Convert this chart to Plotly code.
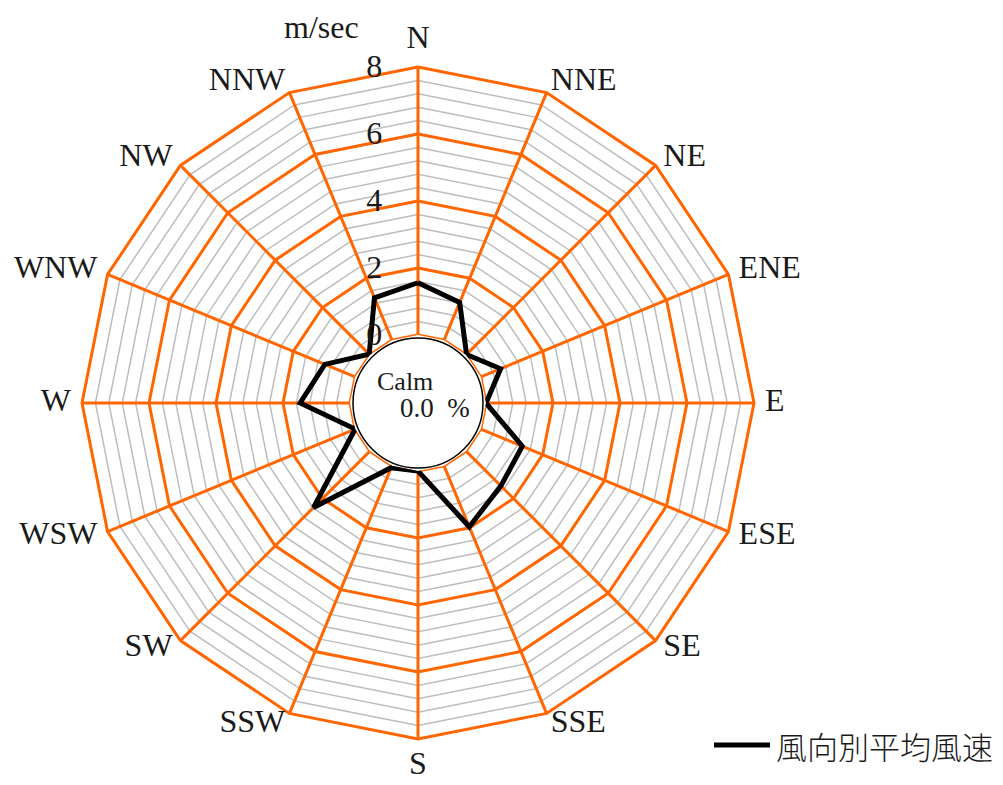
import numpy as np
import plotly.graph_objects as go

directions = ["N", "NNE", "NE", "ENE", "E", "ESE", "SE", "SSE",
              "S", "SSW", "SW", "WSW", "W", "WNW", "NW", "NNW"]
wind_speed = [1.56, 1.22, 0.02, 0.64, 0.0, 1.34, 1.47, 1.97,
              0.0, 0.06, 2.38, 0.0, 1.49, 0.98, 0.03, 1.37]
radial_ticks = [0, 2, 4, 6, 8]
minor_step = 0.4
r_max = 8
calm_pct = "0.0"
legend_name = "風向別平均風速"
unit_label = "m/sec"

W, H = 1003, 785
OFF = 8  # page body margin
def px(x):
    return (x - OFF) / W
def py(y):
    return (H - (y - OFF)) / H

cx, cy = 418, 403
r0_px, unit_px = 68, 33.5          # pixel radius of value 0, pixels per m/s
label_r = r_max + 11 / unit_px      # where direction names sit
r_top = label_r + 0.1               # invisible headroom (labels + outer ring)
R = r0_px + unit_px * r_top
hole = r0_px / R

serif = "Liberation Serif, Times New Roman, serif"
txt = "#1a1a1a"

fig = go.Figure()

# minor gray rings
for v in np.arange(minor_step, r_max, minor_step):
    if any(abs(v - t) < 1e-6 for t in radial_ticks):
        continue
    fig.add_trace(go.Scatterpolar(
        r=[v] * (len(directions) + 1), theta=directions + directions[:1],
        mode="lines", line=dict(color="#bdbdbd", width=1.5),
        hoverinfo="skip", showlegend=False))

# major orange rings
for v in radial_ticks:
    fig.add_trace(go.Scatterpolar(
        r=[v] * (len(directions) + 1), theta=directions + directions[:1],
        mode="lines", line=dict(color="#ff6600", width=3),
        hoverinfo="skip", showlegend=False))

# orange spokes
for d in directions:
    fig.add_trace(go.Scatterpolar(
        r=[0, r_max], theta=[d, d], mode="lines",
        line=dict(color="#ff6600", width=3),
        hoverinfo="skip", showlegend=False))

# data
fig.add_trace(go.Scatterpolar(
    r=wind_speed + wind_speed[:1], theta=directions + directions[:1],
    mode="lines", line=dict(color="black", width=5),
    name=legend_name, showlegend=False))

# direction labels
n = len(directions)
positions = []
for i in range(n):
    if i == 0:
        positions.append("top center")
    elif i == n // 2:
        positions.append("bottom center")
    elif i < n // 2:
        positions.append("middle right")
    else:
        positions.append("middle left")
fig.add_trace(go.Scatterpolar(
    r=[label_r] * n, theta=directions, mode="text", text=directions,
    textposition=positions, cliponaxis=False,
    textfont=dict(size=32, family=serif, color=txt),
    hoverinfo="skip", showlegend=False))

dx0, dx1 = px(cx - R), px(cx + R)
dy0, dy1 = py(cy + R), py(cy - R)

fig.update_layout(
    width=W, height=H,
    margin=dict(l=0, r=0, t=0, b=0),
    paper_bgcolor="white", plot_bgcolor="white",
    font=dict(family=serif, color=txt),
    polar=dict(
        domain=dict(x=[dx0, dx1], y=[dy0, dy1]),
        bgcolor="white",
        hole=hole,
        gridshape="linear",
        radialaxis=dict(range=[0, r_top], tickvals=radial_ticks,
                        showgrid=False, showline=False,
                        ticks="outside", ticklen=24,
                        tickcolor="rgba(0,0,0,0)",
                        angle=90, tickangle=90, side="counterclockwise",
                        tickfont=dict(size=32, family=serif, color=txt)),
        angularaxis=dict(type="category", categoryarray=directions,
                         direction="clockwise", rotation=90,
                         showgrid=False, showline=False, ticks="",
                         showticklabels=False),
    ),
)

# calm circle
fig.add_shape(type="circle", xref="paper", yref="paper",
              xsizemode="pixel", ysizemode="pixel",
              xanchor=px(cx), yanchor=py(cy), x0=-65, x1=65, y0=-65, y1=65,
              line=dict(color="black", width=1.5), fillcolor="white",
              layer="above")

fig.add_annotation(x=px(405), y=py(381), xref="paper", yref="paper",
                   xanchor="center", yanchor="middle",
                   text="Calm", showarrow=False,
                   font=dict(size=26, family=serif, color=txt))
fig.add_annotation(x=px(435), y=py(408), xref="paper", yref="paper",
                   xanchor="center", yanchor="middle",
                   text=calm_pct + "  %", showarrow=False,
                   font=dict(size=27, family=serif, color=txt))
fig.add_annotation(x=px(321), y=py(27), xref="paper", yref="paper",
                   xanchor="center", yanchor="middle",
                   text=unit_label, showarrow=False,
                   font=dict(size=32, family=serif, color=txt))

# legend (manual)
fig.add_shape(type="line", xref="paper", yref="paper",
              x0=px(714), x1=px(770), y0=py(745), y1=py(745),
              line=dict(color="black", width=5))
fig.add_annotation(x=px(774), y=py(745), xref="paper", yref="paper",
                   xanchor="left", yanchor="middle",
                   text=legend_name, showarrow=False,
                   font=dict(size=31, family="Noto Sans CJK JP", weight=300,
                             color=txt))

fig.write_html("out.html")
